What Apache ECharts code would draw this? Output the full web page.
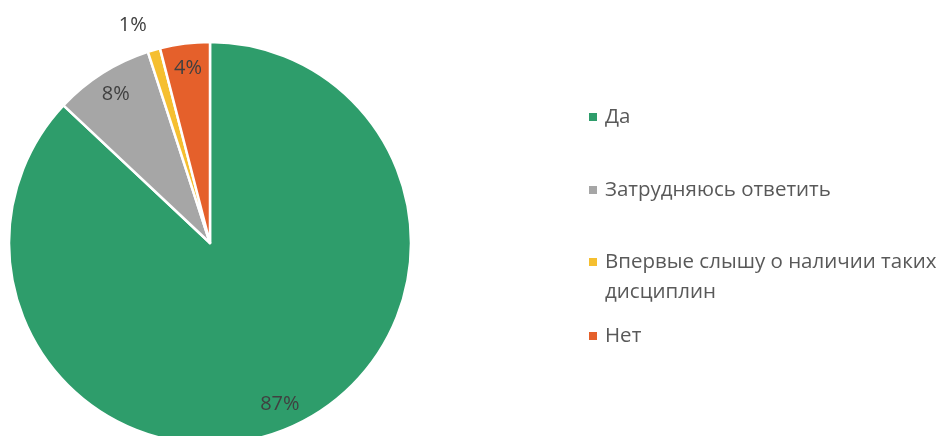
<!DOCTYPE html>
<html>
<head>
<meta charset="utf-8">
<script src="https://cdn.jsdelivr.net/npm/echarts@6/dist/echarts.min.js"></script>
<style>
  html, body { margin: 0; padding: 0; background: #fff; }
  #chart { width: 942px; height: 436px; }
</style>
</head>
<body>
<div id="chart"></div>
<script>
// ответы и доли
const categories = ['Да', 'Затрудняюсь ответить', 'Впервые слышу о наличии таких дисциплин', 'Нет']
const shares = [87, 8, 1, 4]
const colors = ['#2e9d6b', '#a6a6a6', '#f5bf30', '#e5602b']

const R = 201
const center = [210, 243]
const fontFamily = '"Open Sans", "Noto Sans", sans-serif'

const chart = echarts.init(document.getElementById('chart'))

// одна легенда на пункт, т.к. отступы в оригинале неровные
const legendTops = [102, 175, 247, 321]
const legends = categories.map((name, i) => {
  const multi = name.length > 30
  return {
    data: [name],
    orient: 'vertical',
    left: 587,
    top: legendTops[i],
    padding: 0,
    itemWidth: 10,
    itemHeight: multi ? 40 : 10,
    // у переносимой строки маркер прижат к первой строке
    icon: multi ? 'path://M0,0L10,0L10,10L0,10Z M0,40L0,40' : 'rect',
    selectedMode: false,
    formatter: n => n === categories[2] ? 'Впервые слышу о наличии таких\nдисциплин' : n,
    textStyle: {
      fontFamily,
      fontSize: 20.5,
      color: '#595959',
      lineHeight: 30,
      padding: [0, 0, 0, 2]
    }
  }
})

const option = {
  backgroundColor: '#ffffff',
  color: colors,
  legend: legends,
  series: [
    {
      type: 'pie',
      center,
      radius: R,
      startAngle: 90,
      clockwise: true,
      silent: true,
      label: { show: false },
      labelLine: { show: false },
      itemStyle: { borderColor: '#ffffff', borderWidth: 2.5 },
      data: categories.map((name, i) => ({ name, value: shares[i] }))
    },
    {
      // прозрачное кольцо только для подписей (ближе к краю, как в Excel)
      type: 'pie',
      center,
      radius: [R * 0.72, R],
      startAngle: 90,
      clockwise: true,
      silent: true,
      avoidLabelOverlap: false,
      itemStyle: { color: 'rgba(0,0,0,0)', borderWidth: 0 },
      label: {
        show: true,
        position: 'inside',
        formatter: '{c}%',
        fontFamily,
        fontSize: 20,
        color: '#404040'
      },
      labelLine: { show: false },
      data: categories.map((name, i) => {
        const item = { name, value: shares[i] }
        if (shares[i] === 1) {
          item.label = { position: 'outside', distanceToLabelLine: 0 }
          item.labelLine = { show: false, length: 26, length2: 0 }
        }
        return item
      })
    }
  ]
}

chart.setOption(option)
</script>
</body>
</html>
